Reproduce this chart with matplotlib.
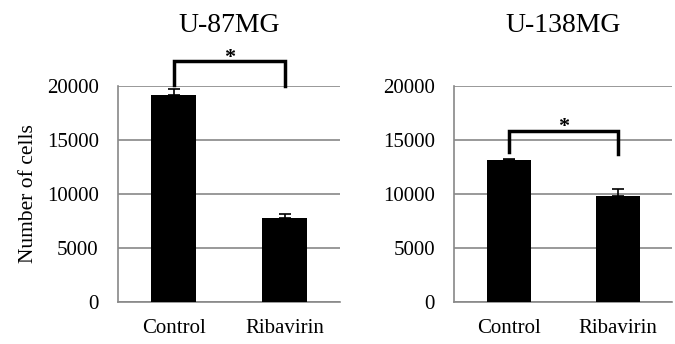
import matplotlib.pyplot as plt

plt.rcParams['font.family'] = ['Liberation Serif', 'DejaVu Serif']

groups = ['Control', 'Ribavirin']
titles = ['U-87MG', 'U-138MG']
means_u87 = [19150, 7780]
errs_u87 = [600, 380]
means_u138 = [13150, 9800]
errs_u138 = [120, 620]
# significance bracket: top level, left leg end, right leg end
bracket_u87 = [22300, 20100, 20000]
bracket_u138 = [15850, 13850, 13700]
yticks = [0, 5000, 10000, 15000, 20000]


def draw_panel(ax, title, means, errs, bracket):
    x = list(range(len(groups)))
    ax.bar(x, means, width=0.4, color='black', zorder=3)
    ax.errorbar(x, means, yerr=[[0] * len(errs), errs], fmt='none',
                ecolor='black', elinewidth=1.2, capsize=4, capthick=1.2, zorder=4)
    ax.set_xlim(-0.5, 1.5)
    ax.set_ylim(0, 20000)
    ax.set_yticks(yticks)
    ax.set_xticks(x)
    ax.set_xticklabels(groups, fontsize=15)
    ax.tick_params(axis='y', labelsize=15, length=0, pad=14)
    ax.tick_params(axis='x', length=0, pad=12)
    ax.grid(axis='y', color='#888888', linewidth=1.2, zorder=0)
    for side in ['top', 'right']:
        ax.spines[side].set_visible(False)
    for side in ['left', 'bottom']:
        ax.spines[side].set_color('#888888')
        ax.spines[side].set_linewidth(1.2)
    top, left_end, right_end = bracket
    ax.plot([0, 0, 1, 1], [left_end, top, top, right_end], color='black',
            linewidth=2.5, clip_on=False, zorder=5, solid_joinstyle='miter')
    ax.text(0.5, top - 150, '*', ha='center', va='baseline', fontsize=16,
            fontweight='bold')
    ax.text(0.5, 1.282, title, transform=ax.transAxes, ha='center',
            va='center', fontsize=20)


fig = plt.figure(figsize=(6.75, 3.44), dpi=100)
ax1 = fig.add_axes([0.175, 0.122, 0.329, 0.628])
ax2 = fig.add_axes([0.673, 0.122, 0.323, 0.628])

draw_panel(ax1, titles[0], means_u87, errs_u87, bracket_u87)
draw_panel(ax2, titles[1], means_u138, errs_u138, bracket_u138)
ax1.set_ylabel('Number of cells', fontsize=15.5, labelpad=6)

fig.savefig('out.png', dpi=100)
